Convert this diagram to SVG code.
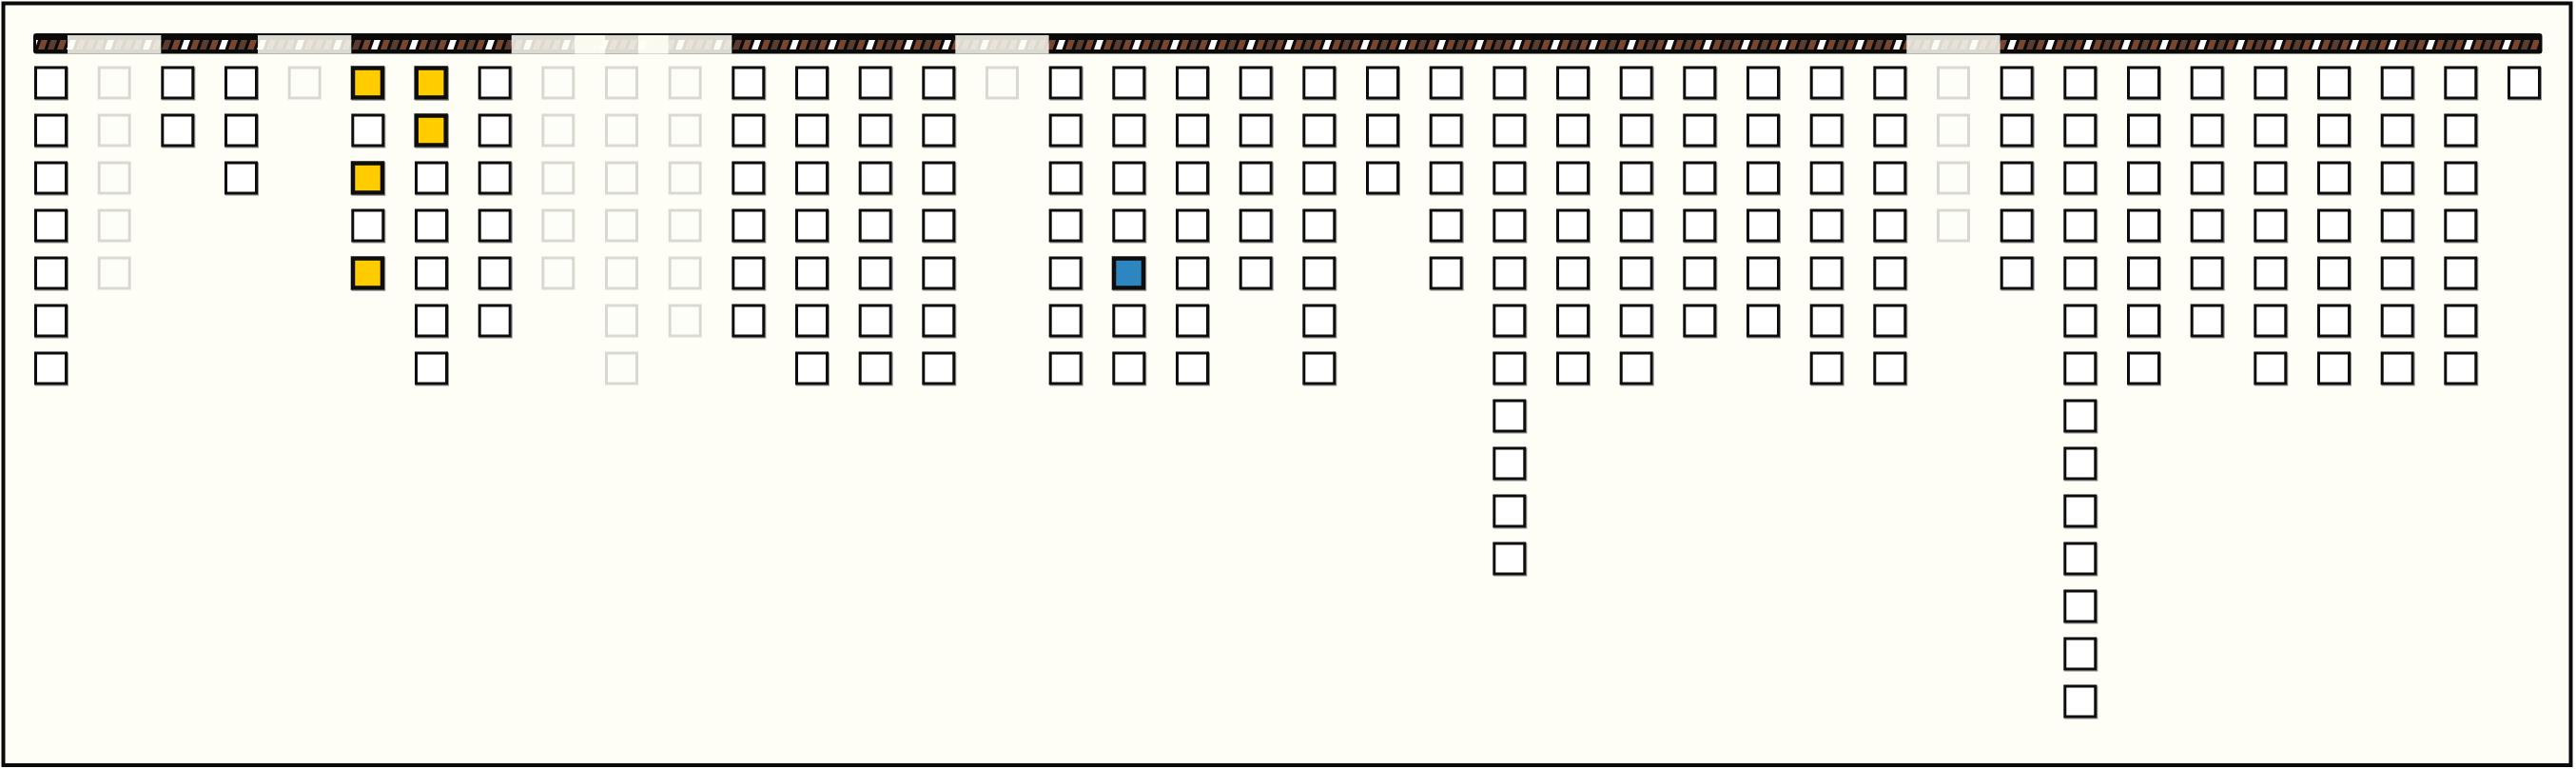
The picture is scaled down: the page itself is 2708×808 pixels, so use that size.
<svg xmlns="http://www.w3.org/2000/svg" width="2708" height="808" viewBox="0 0 2708 808">
<style>
.n{fill:#ffffff;stroke:#0a0a0a;stroke-width:3;filter:url(#sh)}
.f{fill:#fefef8;stroke:#d9d9d1;stroke-width:3}
.y{fill:#ffcc00;stroke:#0a0a0a;stroke-width:4.5;filter:url(#sh)}
.b{fill:#2e86c1;stroke:#0a0a0a;stroke-width:4.5;filter:url(#sh)}
.ov{fill:#fffff6;fill-opacity:0.85}
</style>
<defs>
<filter id="sh" x="-10%" y="-10%" width="130%" height="130%"><feDropShadow dx="1" dy="1" stdDeviation="0" flood-color="#8a8a8a" flood-opacity="1"/></filter>
<pattern id="hatch" patternUnits="userSpaceOnUse" x="0" y="42" width="40" height="10">
<rect width="40" height="10" fill="#0a0a0a"/>
<polygon points="0,10 6.5,10 10,0 3.5,0" fill="#7a4530"/>
<polygon points="10,10 16.5,10 20,0 13.5,0" fill="#5c3b30"/>
<polygon points="20,10 26.5,10 30,0 23.5,0" fill="#7a4530"/>
<polygon points="30,10 36.5,10 40,0 33.5,0" fill="#ffffff"/>
</pattern>
</defs>
<rect x="0" y="0" width="2708" height="808" fill="#ffffff"/>
<rect id="frame" x="3.5" y="3.5" width="2699" height="800.5" fill="#fefef6" stroke="#0a0a0a" stroke-width="4"/>
<g id="bar">
<rect x="35" y="35" width="2637.5" height="21.5" rx="3" fill="#0a0a0a"/>
<rect x="38" y="42" width="2631" height="10" fill="url(#hatch)"/>
<rect class="ov" x="71" y="37" width="98.3" height="19.5"/>
<rect class="ov" x="271" y="37" width="98.3" height="19.5"/>
<rect class="ov" x="537.7" y="37" width="98.3" height="19.5"/>
<rect class="ov" x="604.3" y="37" width="98.3" height="19.5"/>
<rect class="ov" x="671" y="37" width="98.3" height="19.5"/>
<rect class="ov" x="1004.3" y="37" width="98.3" height="19.5"/>
<rect class="ov" x="2004.3" y="37" width="98.3" height="19.5"/>
</g>
<g id="connectors"/>
<g id="nodes">
<g id="c0r0"><rect class="n" x="37.5" y="71" width="32" height="32"/></g>
<g id="c0r1"><rect class="n" x="37.5" y="121" width="32" height="32"/></g>
<g id="c0r2"><rect class="n" x="37.5" y="171" width="32" height="32"/></g>
<g id="c0r3"><rect class="n" x="37.5" y="221" width="32" height="32"/></g>
<g id="c0r4"><rect class="n" x="37.5" y="271" width="32" height="32"/></g>
<g id="c0r5"><rect class="n" x="37.5" y="321" width="32" height="32"/></g>
<g id="c0r6"><rect class="n" x="37.5" y="371" width="32" height="32"/></g>
<g id="c1r0"><rect class="f" x="104.2" y="71" width="32" height="32"/></g>
<g id="c1r1"><rect class="f" x="104.2" y="121" width="32" height="32"/></g>
<g id="c1r2"><rect class="f" x="104.2" y="171" width="32" height="32"/></g>
<g id="c1r3"><rect class="f" x="104.2" y="221" width="32" height="32"/></g>
<g id="c1r4"><rect class="f" x="104.2" y="271" width="32" height="32"/></g>
<g id="c2r0"><rect class="n" x="170.8" y="71" width="32" height="32"/></g>
<g id="c2r1"><rect class="n" x="170.8" y="121" width="32" height="32"/></g>
<g id="c3r0"><rect class="n" x="237.5" y="71" width="32" height="32"/></g>
<g id="c3r1"><rect class="n" x="237.5" y="121" width="32" height="32"/></g>
<g id="c3r2"><rect class="n" x="237.5" y="171" width="32" height="32"/></g>
<g id="c4r0"><rect class="f" x="304.2" y="71" width="32" height="32"/></g>
<g id="c5r0"><rect class="y" x="371" y="71.5" width="31" height="31"/></g>
<g id="c5r1"><rect class="n" x="370.8" y="121" width="32" height="32"/></g>
<g id="c5r2"><rect class="y" x="371" y="171.5" width="31" height="31"/></g>
<g id="c5r3"><rect class="n" x="370.8" y="221" width="32" height="32"/></g>
<g id="c5r4"><rect class="y" x="371" y="271.5" width="31" height="31"/></g>
<g id="c6r0"><rect class="y" x="437.7" y="71.5" width="31" height="31"/></g>
<g id="c6r1"><rect class="y" x="437.7" y="121.5" width="31" height="31"/></g>
<g id="c6r2"><rect class="n" x="437.5" y="171" width="32" height="32"/></g>
<g id="c6r3"><rect class="n" x="437.5" y="221" width="32" height="32"/></g>
<g id="c6r4"><rect class="n" x="437.5" y="271" width="32" height="32"/></g>
<g id="c6r5"><rect class="n" x="437.5" y="321" width="32" height="32"/></g>
<g id="c6r6"><rect class="n" x="437.5" y="371" width="32" height="32"/></g>
<g id="c7r0"><rect class="n" x="504.2" y="71" width="32" height="32"/></g>
<g id="c7r1"><rect class="n" x="504.2" y="121" width="32" height="32"/></g>
<g id="c7r2"><rect class="n" x="504.2" y="171" width="32" height="32"/></g>
<g id="c7r3"><rect class="n" x="504.2" y="221" width="32" height="32"/></g>
<g id="c7r4"><rect class="n" x="504.2" y="271" width="32" height="32"/></g>
<g id="c7r5"><rect class="n" x="504.2" y="321" width="32" height="32"/></g>
<g id="c8r0"><rect class="f" x="570.8" y="71" width="32" height="32"/></g>
<g id="c8r1"><rect class="f" x="570.8" y="121" width="32" height="32"/></g>
<g id="c8r2"><rect class="f" x="570.8" y="171" width="32" height="32"/></g>
<g id="c8r3"><rect class="f" x="570.8" y="221" width="32" height="32"/></g>
<g id="c8r4"><rect class="f" x="570.8" y="271" width="32" height="32"/></g>
<g id="c9r0"><rect class="f" x="637.5" y="71" width="32" height="32"/></g>
<g id="c9r1"><rect class="f" x="637.5" y="121" width="32" height="32"/></g>
<g id="c9r2"><rect class="f" x="637.5" y="171" width="32" height="32"/></g>
<g id="c9r3"><rect class="f" x="637.5" y="221" width="32" height="32"/></g>
<g id="c9r4"><rect class="f" x="637.5" y="271" width="32" height="32"/></g>
<g id="c9r5"><rect class="f" x="637.5" y="321" width="32" height="32"/></g>
<g id="c9r6"><rect class="f" x="637.5" y="371" width="32" height="32"/></g>
<g id="c10r0"><rect class="f" x="704.2" y="71" width="32" height="32"/></g>
<g id="c10r1"><rect class="f" x="704.2" y="121" width="32" height="32"/></g>
<g id="c10r2"><rect class="f" x="704.2" y="171" width="32" height="32"/></g>
<g id="c10r3"><rect class="f" x="704.2" y="221" width="32" height="32"/></g>
<g id="c10r4"><rect class="f" x="704.2" y="271" width="32" height="32"/></g>
<g id="c10r5"><rect class="f" x="704.2" y="321" width="32" height="32"/></g>
<g id="c11r0"><rect class="n" x="770.8" y="71" width="32" height="32"/></g>
<g id="c11r1"><rect class="n" x="770.8" y="121" width="32" height="32"/></g>
<g id="c11r2"><rect class="n" x="770.8" y="171" width="32" height="32"/></g>
<g id="c11r3"><rect class="n" x="770.8" y="221" width="32" height="32"/></g>
<g id="c11r4"><rect class="n" x="770.8" y="271" width="32" height="32"/></g>
<g id="c11r5"><rect class="n" x="770.8" y="321" width="32" height="32"/></g>
<g id="c12r0"><rect class="n" x="837.5" y="71" width="32" height="32"/></g>
<g id="c12r1"><rect class="n" x="837.5" y="121" width="32" height="32"/></g>
<g id="c12r2"><rect class="n" x="837.5" y="171" width="32" height="32"/></g>
<g id="c12r3"><rect class="n" x="837.5" y="221" width="32" height="32"/></g>
<g id="c12r4"><rect class="n" x="837.5" y="271" width="32" height="32"/></g>
<g id="c12r5"><rect class="n" x="837.5" y="321" width="32" height="32"/></g>
<g id="c12r6"><rect class="n" x="837.5" y="371" width="32" height="32"/></g>
<g id="c13r0"><rect class="n" x="904.2" y="71" width="32" height="32"/></g>
<g id="c13r1"><rect class="n" x="904.2" y="121" width="32" height="32"/></g>
<g id="c13r2"><rect class="n" x="904.2" y="171" width="32" height="32"/></g>
<g id="c13r3"><rect class="n" x="904.2" y="221" width="32" height="32"/></g>
<g id="c13r4"><rect class="n" x="904.2" y="271" width="32" height="32"/></g>
<g id="c13r5"><rect class="n" x="904.2" y="321" width="32" height="32"/></g>
<g id="c13r6"><rect class="n" x="904.2" y="371" width="32" height="32"/></g>
<g id="c14r0"><rect class="n" x="970.8" y="71" width="32" height="32"/></g>
<g id="c14r1"><rect class="n" x="970.8" y="121" width="32" height="32"/></g>
<g id="c14r2"><rect class="n" x="970.8" y="171" width="32" height="32"/></g>
<g id="c14r3"><rect class="n" x="970.8" y="221" width="32" height="32"/></g>
<g id="c14r4"><rect class="n" x="970.8" y="271" width="32" height="32"/></g>
<g id="c14r5"><rect class="n" x="970.8" y="321" width="32" height="32"/></g>
<g id="c14r6"><rect class="n" x="970.8" y="371" width="32" height="32"/></g>
<g id="c15r0"><rect class="f" x="1037.5" y="71" width="32" height="32"/></g>
<g id="c16r0"><rect class="n" x="1104.2" y="71" width="32" height="32"/></g>
<g id="c16r1"><rect class="n" x="1104.2" y="121" width="32" height="32"/></g>
<g id="c16r2"><rect class="n" x="1104.2" y="171" width="32" height="32"/></g>
<g id="c16r3"><rect class="n" x="1104.2" y="221" width="32" height="32"/></g>
<g id="c16r4"><rect class="n" x="1104.2" y="271" width="32" height="32"/></g>
<g id="c16r5"><rect class="n" x="1104.2" y="321" width="32" height="32"/></g>
<g id="c16r6"><rect class="n" x="1104.2" y="371" width="32" height="32"/></g>
<g id="c17r0"><rect class="n" x="1170.8" y="71" width="32" height="32"/></g>
<g id="c17r1"><rect class="n" x="1170.8" y="121" width="32" height="32"/></g>
<g id="c17r2"><rect class="n" x="1170.8" y="171" width="32" height="32"/></g>
<g id="c17r3"><rect class="n" x="1170.8" y="221" width="32" height="32"/></g>
<g id="c17r4"><rect class="b" x="1171" y="271.5" width="31" height="31"/></g>
<g id="c17r5"><rect class="n" x="1170.8" y="321" width="32" height="32"/></g>
<g id="c17r6"><rect class="n" x="1170.8" y="371" width="32" height="32"/></g>
<g id="c18r0"><rect class="n" x="1237.5" y="71" width="32" height="32"/></g>
<g id="c18r1"><rect class="n" x="1237.5" y="121" width="32" height="32"/></g>
<g id="c18r2"><rect class="n" x="1237.5" y="171" width="32" height="32"/></g>
<g id="c18r3"><rect class="n" x="1237.5" y="221" width="32" height="32"/></g>
<g id="c18r4"><rect class="n" x="1237.5" y="271" width="32" height="32"/></g>
<g id="c18r5"><rect class="n" x="1237.5" y="321" width="32" height="32"/></g>
<g id="c18r6"><rect class="n" x="1237.5" y="371" width="32" height="32"/></g>
<g id="c19r0"><rect class="n" x="1304.2" y="71" width="32" height="32"/></g>
<g id="c19r1"><rect class="n" x="1304.2" y="121" width="32" height="32"/></g>
<g id="c19r2"><rect class="n" x="1304.2" y="171" width="32" height="32"/></g>
<g id="c19r3"><rect class="n" x="1304.2" y="221" width="32" height="32"/></g>
<g id="c19r4"><rect class="n" x="1304.2" y="271" width="32" height="32"/></g>
<g id="c20r0"><rect class="n" x="1370.8" y="71" width="32" height="32"/></g>
<g id="c20r1"><rect class="n" x="1370.8" y="121" width="32" height="32"/></g>
<g id="c20r2"><rect class="n" x="1370.8" y="171" width="32" height="32"/></g>
<g id="c20r3"><rect class="n" x="1370.8" y="221" width="32" height="32"/></g>
<g id="c20r4"><rect class="n" x="1370.8" y="271" width="32" height="32"/></g>
<g id="c20r5"><rect class="n" x="1370.8" y="321" width="32" height="32"/></g>
<g id="c20r6"><rect class="n" x="1370.8" y="371" width="32" height="32"/></g>
<g id="c21r0"><rect class="n" x="1437.5" y="71" width="32" height="32"/></g>
<g id="c21r1"><rect class="n" x="1437.5" y="121" width="32" height="32"/></g>
<g id="c21r2"><rect class="n" x="1437.5" y="171" width="32" height="32"/></g>
<g id="c22r0"><rect class="n" x="1504.2" y="71" width="32" height="32"/></g>
<g id="c22r1"><rect class="n" x="1504.2" y="121" width="32" height="32"/></g>
<g id="c22r2"><rect class="n" x="1504.2" y="171" width="32" height="32"/></g>
<g id="c22r3"><rect class="n" x="1504.2" y="221" width="32" height="32"/></g>
<g id="c22r4"><rect class="n" x="1504.2" y="271" width="32" height="32"/></g>
<g id="c23r0"><rect class="n" x="1570.8" y="71" width="32" height="32"/></g>
<g id="c23r1"><rect class="n" x="1570.8" y="121" width="32" height="32"/></g>
<g id="c23r2"><rect class="n" x="1570.8" y="171" width="32" height="32"/></g>
<g id="c23r3"><rect class="n" x="1570.8" y="221" width="32" height="32"/></g>
<g id="c23r4"><rect class="n" x="1570.8" y="271" width="32" height="32"/></g>
<g id="c23r5"><rect class="n" x="1570.8" y="321" width="32" height="32"/></g>
<g id="c23r6"><rect class="n" x="1570.8" y="371" width="32" height="32"/></g>
<g id="c23r7"><rect class="n" x="1570.8" y="421" width="32" height="32"/></g>
<g id="c23r8"><rect class="n" x="1570.8" y="471" width="32" height="32"/></g>
<g id="c23r9"><rect class="n" x="1570.8" y="521" width="32" height="32"/></g>
<g id="c23r10"><rect class="n" x="1570.8" y="571" width="32" height="32"/></g>
<g id="c24r0"><rect class="n" x="1637.5" y="71" width="32" height="32"/></g>
<g id="c24r1"><rect class="n" x="1637.5" y="121" width="32" height="32"/></g>
<g id="c24r2"><rect class="n" x="1637.5" y="171" width="32" height="32"/></g>
<g id="c24r3"><rect class="n" x="1637.5" y="221" width="32" height="32"/></g>
<g id="c24r4"><rect class="n" x="1637.5" y="271" width="32" height="32"/></g>
<g id="c24r5"><rect class="n" x="1637.5" y="321" width="32" height="32"/></g>
<g id="c24r6"><rect class="n" x="1637.5" y="371" width="32" height="32"/></g>
<g id="c25r0"><rect class="n" x="1704.2" y="71" width="32" height="32"/></g>
<g id="c25r1"><rect class="n" x="1704.2" y="121" width="32" height="32"/></g>
<g id="c25r2"><rect class="n" x="1704.2" y="171" width="32" height="32"/></g>
<g id="c25r3"><rect class="n" x="1704.2" y="221" width="32" height="32"/></g>
<g id="c25r4"><rect class="n" x="1704.2" y="271" width="32" height="32"/></g>
<g id="c25r5"><rect class="n" x="1704.2" y="321" width="32" height="32"/></g>
<g id="c25r6"><rect class="n" x="1704.2" y="371" width="32" height="32"/></g>
<g id="c26r0"><rect class="n" x="1770.8" y="71" width="32" height="32"/></g>
<g id="c26r1"><rect class="n" x="1770.8" y="121" width="32" height="32"/></g>
<g id="c26r2"><rect class="n" x="1770.8" y="171" width="32" height="32"/></g>
<g id="c26r3"><rect class="n" x="1770.8" y="221" width="32" height="32"/></g>
<g id="c26r4"><rect class="n" x="1770.8" y="271" width="32" height="32"/></g>
<g id="c26r5"><rect class="n" x="1770.8" y="321" width="32" height="32"/></g>
<g id="c27r0"><rect class="n" x="1837.5" y="71" width="32" height="32"/></g>
<g id="c27r1"><rect class="n" x="1837.5" y="121" width="32" height="32"/></g>
<g id="c27r2"><rect class="n" x="1837.5" y="171" width="32" height="32"/></g>
<g id="c27r3"><rect class="n" x="1837.5" y="221" width="32" height="32"/></g>
<g id="c27r4"><rect class="n" x="1837.5" y="271" width="32" height="32"/></g>
<g id="c27r5"><rect class="n" x="1837.5" y="321" width="32" height="32"/></g>
<g id="c28r0"><rect class="n" x="1904.2" y="71" width="32" height="32"/></g>
<g id="c28r1"><rect class="n" x="1904.2" y="121" width="32" height="32"/></g>
<g id="c28r2"><rect class="n" x="1904.2" y="171" width="32" height="32"/></g>
<g id="c28r3"><rect class="n" x="1904.2" y="221" width="32" height="32"/></g>
<g id="c28r4"><rect class="n" x="1904.2" y="271" width="32" height="32"/></g>
<g id="c28r5"><rect class="n" x="1904.2" y="321" width="32" height="32"/></g>
<g id="c28r6"><rect class="n" x="1904.2" y="371" width="32" height="32"/></g>
<g id="c29r0"><rect class="n" x="1970.8" y="71" width="32" height="32"/></g>
<g id="c29r1"><rect class="n" x="1970.8" y="121" width="32" height="32"/></g>
<g id="c29r2"><rect class="n" x="1970.8" y="171" width="32" height="32"/></g>
<g id="c29r3"><rect class="n" x="1970.8" y="221" width="32" height="32"/></g>
<g id="c29r4"><rect class="n" x="1970.8" y="271" width="32" height="32"/></g>
<g id="c29r5"><rect class="n" x="1970.8" y="321" width="32" height="32"/></g>
<g id="c29r6"><rect class="n" x="1970.8" y="371" width="32" height="32"/></g>
<g id="c30r0"><rect class="f" x="2037.5" y="71" width="32" height="32"/></g>
<g id="c30r1"><rect class="f" x="2037.5" y="121" width="32" height="32"/></g>
<g id="c30r2"><rect class="f" x="2037.5" y="171" width="32" height="32"/></g>
<g id="c30r3"><rect class="f" x="2037.5" y="221" width="32" height="32"/></g>
<g id="c31r0"><rect class="n" x="2104.2" y="71" width="32" height="32"/></g>
<g id="c31r1"><rect class="n" x="2104.2" y="121" width="32" height="32"/></g>
<g id="c31r2"><rect class="n" x="2104.2" y="171" width="32" height="32"/></g>
<g id="c31r3"><rect class="n" x="2104.2" y="221" width="32" height="32"/></g>
<g id="c31r4"><rect class="n" x="2104.2" y="271" width="32" height="32"/></g>
<g id="c32r0"><rect class="n" x="2170.8" y="71" width="32" height="32"/></g>
<g id="c32r1"><rect class="n" x="2170.8" y="121" width="32" height="32"/></g>
<g id="c32r2"><rect class="n" x="2170.8" y="171" width="32" height="32"/></g>
<g id="c32r3"><rect class="n" x="2170.8" y="221" width="32" height="32"/></g>
<g id="c32r4"><rect class="n" x="2170.8" y="271" width="32" height="32"/></g>
<g id="c32r5"><rect class="n" x="2170.8" y="321" width="32" height="32"/></g>
<g id="c32r6"><rect class="n" x="2170.8" y="371" width="32" height="32"/></g>
<g id="c32r7"><rect class="n" x="2170.8" y="421" width="32" height="32"/></g>
<g id="c32r8"><rect class="n" x="2170.8" y="471" width="32" height="32"/></g>
<g id="c32r9"><rect class="n" x="2170.8" y="521" width="32" height="32"/></g>
<g id="c32r10"><rect class="n" x="2170.8" y="571" width="32" height="32"/></g>
<g id="c32r11"><rect class="n" x="2170.8" y="621" width="32" height="32"/></g>
<g id="c32r12"><rect class="n" x="2170.8" y="671" width="32" height="32"/></g>
<g id="c32r13"><rect class="n" x="2170.8" y="721" width="32" height="32"/></g>
<g id="c33r0"><rect class="n" x="2237.5" y="71" width="32" height="32"/></g>
<g id="c33r1"><rect class="n" x="2237.5" y="121" width="32" height="32"/></g>
<g id="c33r2"><rect class="n" x="2237.5" y="171" width="32" height="32"/></g>
<g id="c33r3"><rect class="n" x="2237.5" y="221" width="32" height="32"/></g>
<g id="c33r4"><rect class="n" x="2237.5" y="271" width="32" height="32"/></g>
<g id="c33r5"><rect class="n" x="2237.5" y="321" width="32" height="32"/></g>
<g id="c33r6"><rect class="n" x="2237.5" y="371" width="32" height="32"/></g>
<g id="c34r0"><rect class="n" x="2304.2" y="71" width="32" height="32"/></g>
<g id="c34r1"><rect class="n" x="2304.2" y="121" width="32" height="32"/></g>
<g id="c34r2"><rect class="n" x="2304.2" y="171" width="32" height="32"/></g>
<g id="c34r3"><rect class="n" x="2304.2" y="221" width="32" height="32"/></g>
<g id="c34r4"><rect class="n" x="2304.2" y="271" width="32" height="32"/></g>
<g id="c34r5"><rect class="n" x="2304.2" y="321" width="32" height="32"/></g>
<g id="c35r0"><rect class="n" x="2370.8" y="71" width="32" height="32"/></g>
<g id="c35r1"><rect class="n" x="2370.8" y="121" width="32" height="32"/></g>
<g id="c35r2"><rect class="n" x="2370.8" y="171" width="32" height="32"/></g>
<g id="c35r3"><rect class="n" x="2370.8" y="221" width="32" height="32"/></g>
<g id="c35r4"><rect class="n" x="2370.8" y="271" width="32" height="32"/></g>
<g id="c35r5"><rect class="n" x="2370.8" y="321" width="32" height="32"/></g>
<g id="c35r6"><rect class="n" x="2370.8" y="371" width="32" height="32"/></g>
<g id="c36r0"><rect class="n" x="2437.5" y="71" width="32" height="32"/></g>
<g id="c36r1"><rect class="n" x="2437.5" y="121" width="32" height="32"/></g>
<g id="c36r2"><rect class="n" x="2437.5" y="171" width="32" height="32"/></g>
<g id="c36r3"><rect class="n" x="2437.5" y="221" width="32" height="32"/></g>
<g id="c36r4"><rect class="n" x="2437.5" y="271" width="32" height="32"/></g>
<g id="c36r5"><rect class="n" x="2437.5" y="321" width="32" height="32"/></g>
<g id="c36r6"><rect class="n" x="2437.5" y="371" width="32" height="32"/></g>
<g id="c37r0"><rect class="n" x="2504.2" y="71" width="32" height="32"/></g>
<g id="c37r1"><rect class="n" x="2504.2" y="121" width="32" height="32"/></g>
<g id="c37r2"><rect class="n" x="2504.2" y="171" width="32" height="32"/></g>
<g id="c37r3"><rect class="n" x="2504.2" y="221" width="32" height="32"/></g>
<g id="c37r4"><rect class="n" x="2504.2" y="271" width="32" height="32"/></g>
<g id="c37r5"><rect class="n" x="2504.2" y="321" width="32" height="32"/></g>
<g id="c37r6"><rect class="n" x="2504.2" y="371" width="32" height="32"/></g>
<g id="c38r0"><rect class="n" x="2570.8" y="71" width="32" height="32"/></g>
<g id="c38r1"><rect class="n" x="2570.8" y="121" width="32" height="32"/></g>
<g id="c38r2"><rect class="n" x="2570.8" y="171" width="32" height="32"/></g>
<g id="c38r3"><rect class="n" x="2570.8" y="221" width="32" height="32"/></g>
<g id="c38r4"><rect class="n" x="2570.8" y="271" width="32" height="32"/></g>
<g id="c38r5"><rect class="n" x="2570.8" y="321" width="32" height="32"/></g>
<g id="c38r6"><rect class="n" x="2570.8" y="371" width="32" height="32"/></g>
<g id="c39r0"><rect class="n" x="2637.5" y="71" width="32" height="32"/></g>
</g>
</svg>
